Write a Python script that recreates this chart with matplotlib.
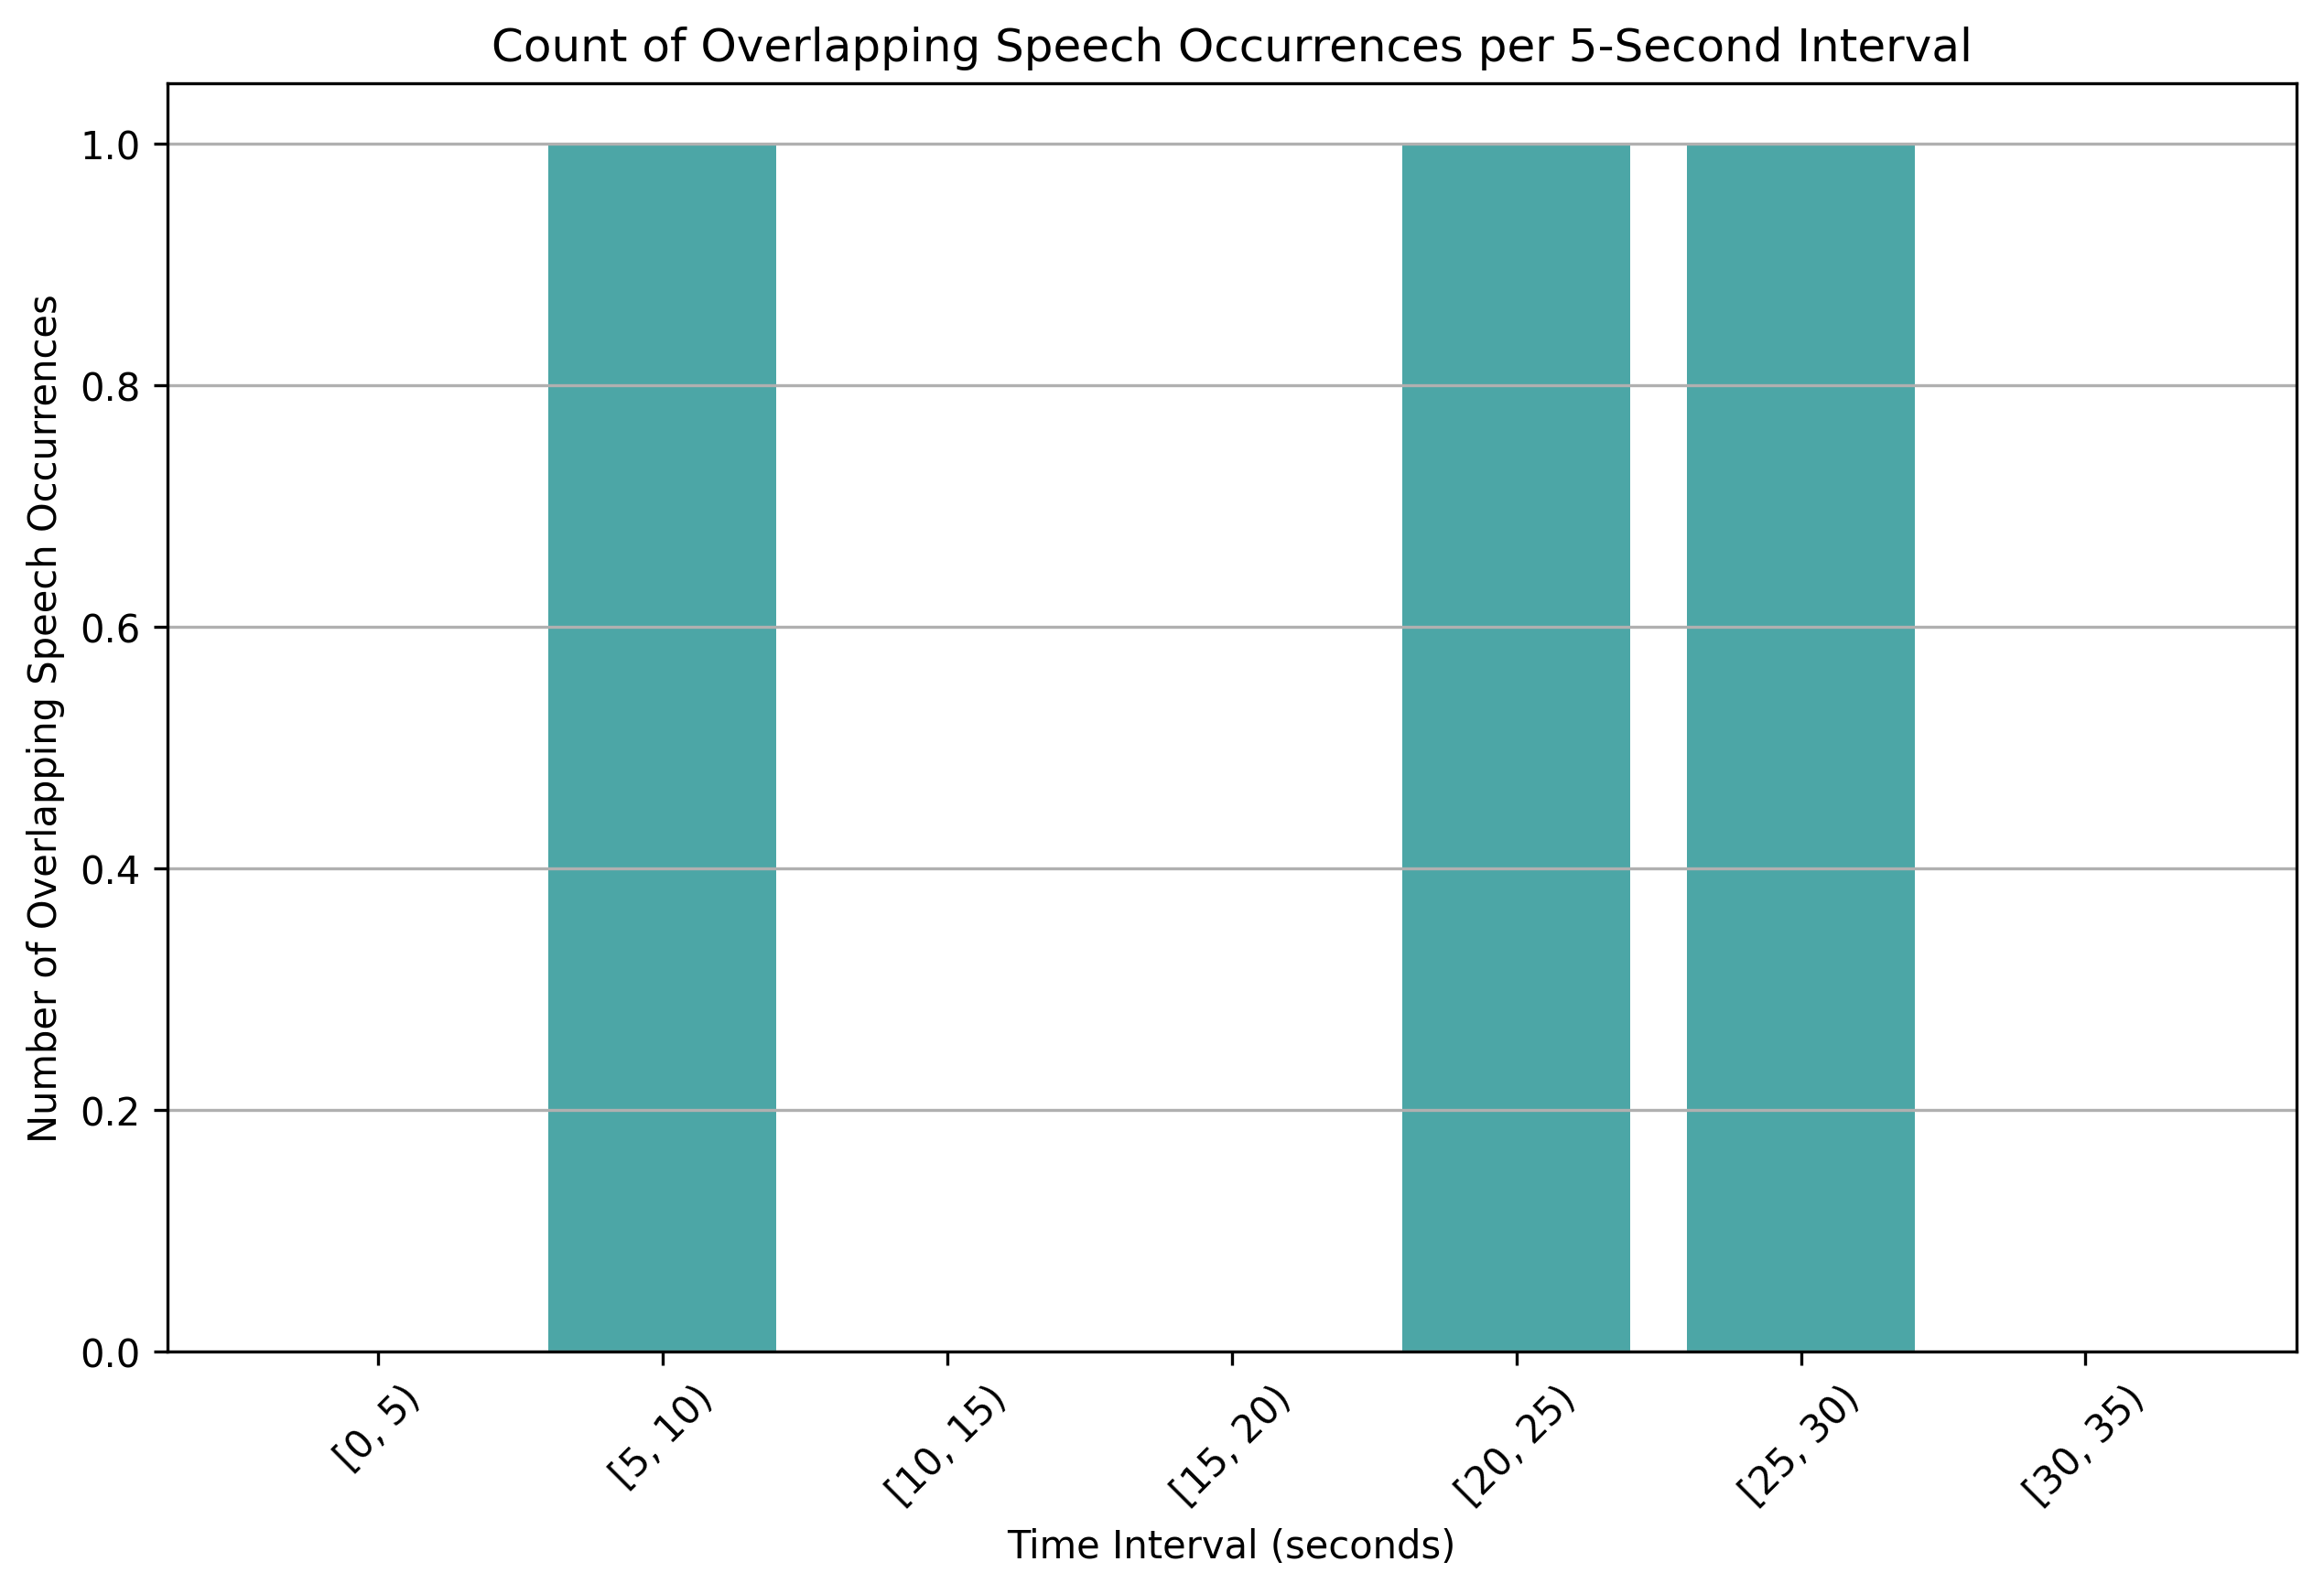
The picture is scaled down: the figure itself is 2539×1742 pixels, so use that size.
import matplotlib
matplotlib.use("Agg")
import matplotlib.pyplot as plt

# counts of overlapping speech per 5 s bin
intervals = ["[0, 5)", "[5, 10)", "[10, 15)", "[15, 20)",
             "[20, 25)", "[25, 30)", "[30, 35)"]
counts = [0, 1, 0, 0, 1, 1, 0]

fig = plt.figure(figsize=(2539 / 300, 1743 / 300), dpi=300)
ax = fig.add_subplot(111)
fig.subplots_adjust(left=0.072, right=0.988, top=0.947, bottom=0.152)

ax.bar(intervals, counts, color="teal", alpha=0.7, width=0.8)
ax.set_title("Count of Overlapping Speech Occurrences per 5-Second Interval")
ax.set_xlabel("Time Interval (seconds)")
ax.set_ylabel("Number of Overlapping Speech Occurrences")
ax.tick_params(axis="x", rotation=45)
ax.grid(axis="y")

fig.savefig("out.png", dpi=300)
